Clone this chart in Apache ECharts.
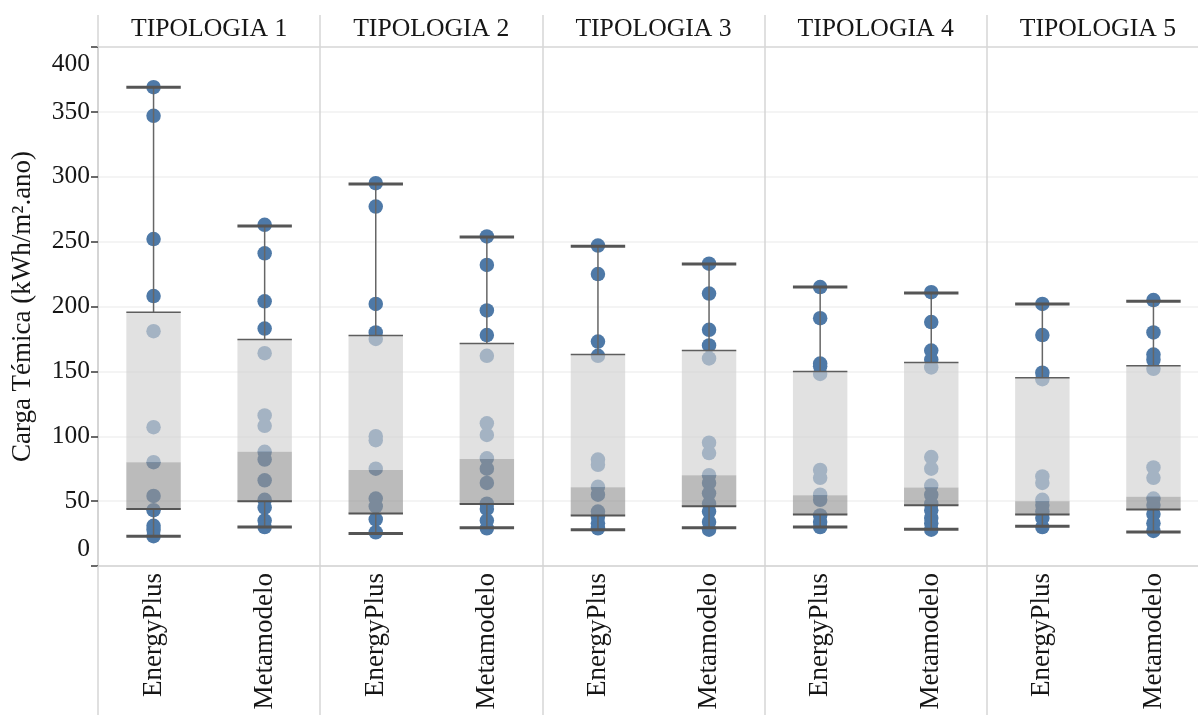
<!DOCTYPE html>
<html>
<head>
<meta charset="utf-8">
<script src="https://cdn.jsdelivr.net/npm/echarts@6/dist/echarts.min.js"></script>
<style>
html,body{margin:0;padding:0;background:#fff;overflow:hidden;width:1198px;height:715px;}
#chart{width:1210px;height:715px;}
</style>
</head>
<body>
<div id="chart"></div>
<script>
// ---- data ----
const tipologias = ['TIPOLOGIA 1', 'TIPOLOGIA 2', 'TIPOLOGIA 3', 'TIPOLOGIA 4', 'TIPOLOGIA 5'];
const modelos = ['EnergyPlus', 'Metamodelo'];
const yTicks = [0, 50, 100, 150, 200, 250, 300, 350, 400];

// dot values per group (EnergyPlus / Metamodelo for each tipologia)
const t1EnergyPlus = [369, 347, 252, 208, 181, 107, 80, 54, 43, 31, 28, 23];
const t1Metamodelo = [263, 241, 204, 183, 164, 116, 108, 88, 82, 66, 51, 45, 35, 30];
const t2EnergyPlus = [295, 277, 202, 180, 175, 100, 97, 75, 52, 46, 36, 26];
const t2Metamodelo = [254, 232, 197, 178, 162, 110, 101, 83, 75, 64, 48, 44, 35, 29];
const t3EnergyPlus = [247, 225, 173, 162, 82, 78, 61, 55, 42, 38, 33, 29];
const t3Metamodelo = [233, 210, 182, 170, 160, 95, 87, 70, 64, 56, 48, 42, 34, 28];
const t4EnergyPlus = [215, 191, 156, 154, 148, 74, 68, 55, 51, 39, 34, 30];
const t4Metamodelo = [211, 188, 166, 159, 153, 84, 75, 62, 55, 48, 43, 37, 33, 28];
const t5EnergyPlus = [202, 178, 149, 144, 69, 64, 51, 47, 42, 37, 30];
const t5Metamodelo = [205, 180, 163, 159, 152, 76, 68, 52, 47, 40, 33, 27];

// box stats per group: [lower whisker, Q1, median, Q3, upper whisker]
const t1EnergyPlusBox = [23, 44, 80, 195.5, 369];
const t1MetamodeloBox = [30, 50, 88, 174.5, 262];
const t2EnergyPlusBox = [25, 40.5, 74, 177.6, 294.5];
const t2MetamodeloBox = [29.5, 47.7, 82.5, 171.4, 253.5];
const t3EnergyPlusBox = [28, 39, 60.6, 163, 246.5];
const t3MetamodeloBox = [29.4, 46, 70, 166, 232.7];
const t4EnergyPlusBox = [30, 39.7, 54.6, 150, 215];
const t4MetamodeloBox = [28.3, 46.9, 60.5, 156.8, 210.5];
const t5EnergyPlusBox = [30.7, 39.7, 50, 145, 202];
const t5MetamodeloBox = [26.3, 43.5, 53.4, 154.3, 204];

// ---- build ----
const dotGroups = [t1EnergyPlus, t1Metamodelo, t2EnergyPlus, t2Metamodelo, t3EnergyPlus,
                   t3Metamodelo, t4EnergyPlus, t4Metamodelo, t5EnergyPlus, t5Metamodelo];
const boxGroups = [t1EnergyPlusBox, t1MetamodeloBox, t2EnergyPlusBox, t2MetamodeloBox, t3EnergyPlusBox,
                   t3MetamodeloBox, t4EnergyPlusBox, t4MetamodeloBox, t5EnergyPlusBox, t5MetamodeloBox];
const xCats = [];
tipologias.forEach(() => modelos.forEach(m => xCats.push(m)));

const scatterData = [];
dotGroups.forEach((g, i) => g.forEach(v => scatterData.push([i, v])));
const boxData = boxGroups.map((b, i) => [i].concat(b));

const FONT = '"Liberation Serif", "DejaVu Serif", serif';
const TXT = '#161616';

const chart = echarts.init(document.getElementById('chart'), null, {renderer: 'canvas', width: 1210, height: 715});

chart.setOption({
  animation: false,
  backgroundColor: '#ffffff',
  grid: {left: 98, top: 47, width: 1111, height: 519, containLabel: false},
  xAxis: [
    {
      type: 'category',
      data: xCats,
      position: 'bottom',
      boundaryGap: true,
      axisLine: {show: true, lineStyle: {color: '#d2d2d2', width: 1.5}},
      axisTick: {
        show: true,
        interval: function (i) { return i % 2 === 0; },
        length: 149,
        lineStyle: {color: '#d6d6d6', width: 1.5}
      },
      axisLabel: {
        interval: 0,
        rotate: 90,
        margin: 7,
        fontFamily: FONT,
        fontSize: 27,
        color: TXT
      },
      splitLine: {show: false}
    },
    {
      type: 'category',
      data: tipologias,
      position: 'top',
      boundaryGap: true,
      axisLine: {show: true, lineStyle: {color: '#d9d9d9', width: 1.5}},
      axisTick: {show: true, interval: 0, length: 32, lineStyle: {color: '#d6d6d6', width: 1.5}},
      axisLabel: {interval: 0, margin: 5, fontFamily: FONT, fontSize: 25.7, color: TXT},
      splitLine: {show: true, interval: 0, lineStyle: {color: '#d6d6d6', width: 1.5}}
    }
  ],
  yAxis: {
    type: 'value',
    min: 0,
    max: 400,
    interval: 50,
    name: 'Carga Témica (kWh/m².ano)',
    nameLocation: 'middle',
    nameGap: 62,
    nameTextStyle: {fontFamily: FONT, fontSize: 27, color: TXT},
    axisLine: {show: true, lineStyle: {color: '#d2d2d2', width: 1.5}},
    axisTick: {show: true, length: 7, lineStyle: {color: '#3a3a3a', width: 1.5}},
    axisLabel: {
      margin: 8,
      fontFamily: FONT,
      fontSize: 25.5,
      color: TXT,
      formatter: function (v) {
        if (v === yTicks[yTicks.length - 1]) return '{top|' + v + '}';
        if (v === yTicks[0]) return '{bot|' + v + '}';
        return String(v);
      },
      rich: {
        top: {fontFamily: FONT, fontSize: 25.5, color: TXT, padding: [34, 0, 0, 0]},
        bot: {fontFamily: FONT, fontSize: 25.5, color: TXT, padding: [0, 0, 34, 0]}
      }
    },
    splitLine: {show: true, lineStyle: {color: '#f0f0f0', width: 1.5}}
  },
  series: [
    {
      type: 'scatter',
      xAxisIndex: 0,
      data: scatterData,
      symbol: 'circle',
      symbolSize: 14.5,
      itemStyle: {color: '#4e79a7', opacity: 1},
      z: 2
    },
    {
      type: 'custom',
      xAxisIndex: 0,
      data: boxData,
      encode: {x: 0, y: [1, 2, 3, 4, 5]},
      z: 3,
      renderItem: function (params, api) {
        const x = api.value(0);
        const low = api.coord([x, api.value(1)]);
        const q1 = api.coord([x, api.value(2)]);
        const med = api.coord([x, api.value(3)]);
        const q3 = api.coord([x, api.value(4)]);
        const high = api.coord([x, api.value(5)]);
        const bw = api.size([1, 0])[0] * 0.49;
        const cx = med[0];
        const x0 = cx - bw / 2;
        return {
          type: 'group',
          children: [
            {type: 'rect', shape: {x: x0, y: q3[1], width: bw, height: med[1] - q3[1]},
             style: {fill: 'rgba(209,209,209,0.66)'}},
            {type: 'rect', shape: {x: x0, y: med[1], width: bw, height: q1[1] - med[1]},
             style: {fill: 'rgba(149,149,149,0.64)'}},
            {type: 'line', shape: {x1: cx, y1: q3[1], x2: cx, y2: high[1]},
             style: {stroke: '#666666', lineWidth: 1.5}},
            {type: 'line', shape: {x1: cx, y1: q1[1], x2: cx, y2: low[1]},
             style: {stroke: '#666666', lineWidth: 1.5}},
            {type: 'line', shape: {x1: x0, y1: q3[1], x2: x0 + bw, y2: q3[1]},
             style: {stroke: '#5e5e5e', lineWidth: 1.5}},
            {type: 'line', shape: {x1: x0, y1: q1[1], x2: x0 + bw, y2: q1[1]},
             style: {stroke: '#555555', lineWidth: 2}},
            {type: 'line', shape: {x1: x0, y1: high[1], x2: x0 + bw, y2: high[1]},
             style: {stroke: '#555555', lineWidth: 3}},
            {type: 'line', shape: {x1: x0, y1: low[1], x2: x0 + bw, y2: low[1]},
             style: {stroke: '#555555', lineWidth: 3}}
          ]
        };
      }
    }
  ]
});
</script>
</body>
</html>
